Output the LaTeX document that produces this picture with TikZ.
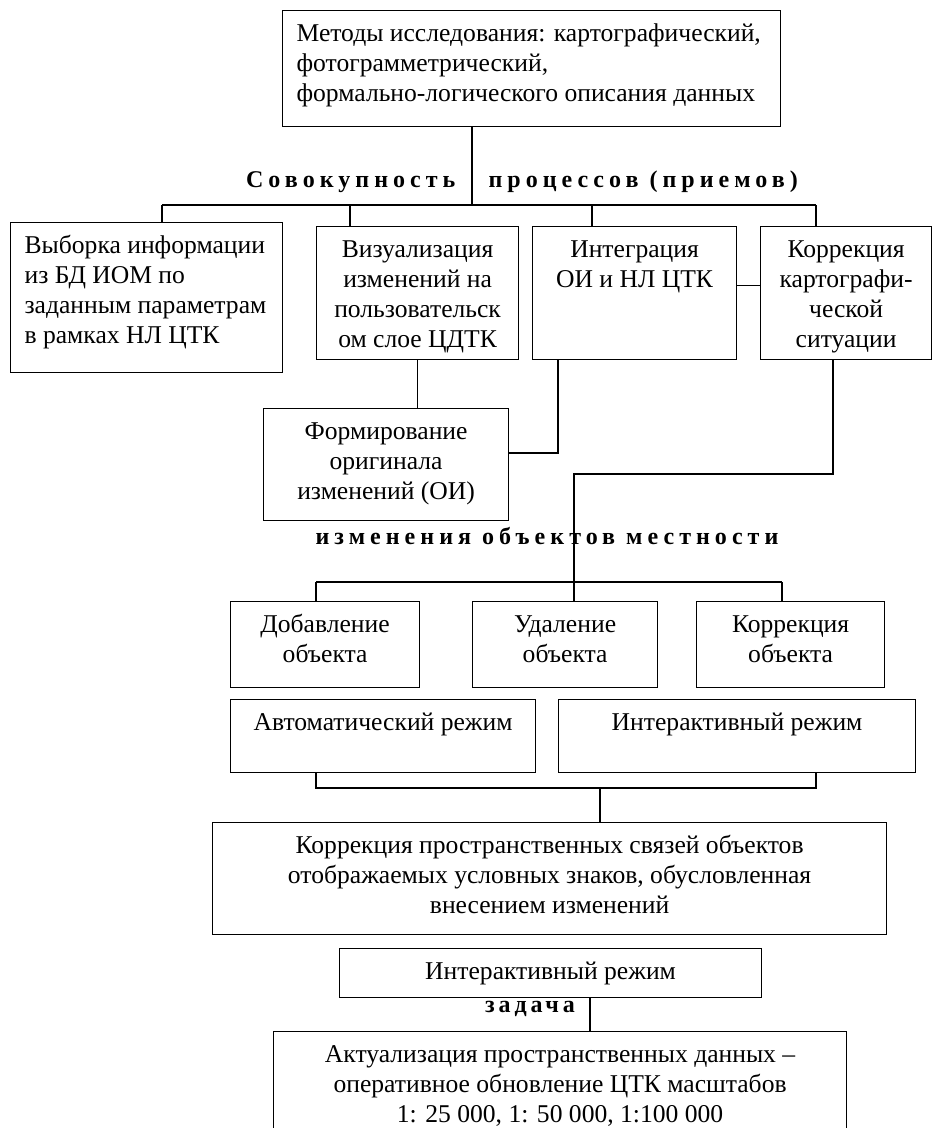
\documentclass[tikz,border=0pt]{standalone}
\usepackage{fontspec}
\setmainfont{Liberation Serif}
\newfontfamily\widefont[LetterSpace=21]{Liberation Serif}
\newfontfamily\narrowfont[LetterSpace=16]{Liberation Serif}
\usetikzlibrary{positioning}
% text block pinned to the top of a box: width, height, lines
\newcommand{\cellC}[3]{\parbox[t][#2pt][t]{#1pt}{\centering\rule{0pt}{31pt}#3}}
\newcommand{\cellL}[3]{\parbox[t][#2pt][t]{#1pt}{\raggedright\leftskip=14pt\rule{0pt}{31pt}#3}}
\tikzset{
  box/.style={draw,anchor=north west,inner sep=0pt,font=\fontsize{25.6}{30}\selectfont},
  caption/.style={inner sep=0pt,font=\fontsize{24}{28}\selectfont\widefont\bfseries},
  link/.style={line width=1.2pt}
}
\begin{document}
\begin{tikzpicture}[x=1pt,y=-1pt,line width=1.2pt]
  \useasboundingbox (0,0) rectangle (933,1128);

  \node[box] (meth) at (282,10) {\cellL{498}{116}{Методы исследования: картографический,\\ фотограмметрический,\\ формально-логического описания данных}};

  \node[caption,anchor=east] (setA) at (456,182) {Совокупность};
  \node[caption,anchor=west] (setB) at (488,182) {процессов (приемов)};

  \node[box] (sel) at (10,222) {\cellL{272}{150}{Выборка информации\\ из БД ИОМ по\\ заданным параметрам\\ в рамках НЛ ЦТК}};
  \node[box] (vis) at (316,226) {\cellC{202}{133}{Визуализация\\ изменений на\\ пользовательск\\ ом слое ЦДТК}};
  \node[box] (int) at (532,226) {\cellC{204}{133}{Интеграция\\ ОИ и НЛ ЦТК}};
  \node[box] (cor) at (760,226) {\cellC{171}{133}{Коррекция\\ картографи-\\ ческой\\ ситуации}};
  \node[box] (form) at (263,408) {\cellC{245}{112}{Формирование\\ оригинала\\ изменений (ОИ)}};

  \node[caption] (chg) at (547,536) {изменения объектов местности};

  \node[box] (add) at (230,601) {\cellC{189}{86}{Добавление\\ объекта}};
  \node[box] (del) at (472,601) {\cellC{185}{86}{Удаление\\ объекта}};
  \node[box] (fix) at (696,601) {\cellC{188}{86}{Коррекция\\ объекта}};
  \node[box] (auto) at (230,699) {\cellC{305}{73}{Автоматический режим}};
  \node[box] (inter) at (558,699) {\cellC{357}{73}{Интерактивный режим}};
  \node[box] (spat) at (212,822) {\cellC{674}{112}{Коррекция пространственных связей объектов\\ отображаемых условных знаков, обусловленная\\ внесением изменений}};
  \node[box] (mode) at (339,948) {\cellC{422}{49}{Интерактивный режим}};

  \node[caption,font=\fontsize{24}{28}\selectfont\narrowfont\bfseries] (task) at (530,1009) {задача};

  \node[box] (act) at (273,1031) {\cellC{573}{110}{Актуализация пространственных данных --\\ оперативное обновление ЦТК масштабов\\ 1: 25 000, 1: 50 000, 1:100 000}};

  % junctions
  \coordinate (t0) at (472,205);
  \coordinate (a1) at (162,205);
  \coordinate (a2) at (350,205);
  \coordinate (a3) at (592,205);
  \coordinate (a4) at (816,205);
  \coordinate (f1) at (558,453);
  \coordinate (c1) at (833,474);
  \coordinate (c2) at (574,474);
  \coordinate (b0) at (574,582);
  \coordinate (b1) at (316,582);
  \coordinate (b2) at (782,582);
  \coordinate (m0) at (600,788);
  \coordinate (m1) at (316,788);
  \coordinate (m2) at (816,788);
  \coordinate (z0) at (590,1010);

  \draw[link] (meth.south -| t0) -- (t0);
  \draw[link] (a1) -- (a4);
  \draw[link] (a1) -- (sel.north -| a1);
  \draw[link] (a2) -- (vis.north -| a2);
  \draw[link] (a3) -- (int.north -| a3);
  \draw[link] (a4) -- (cor.north -| a4);
  \draw[link] ([yshift=8pt]int.east) -- ([yshift=8pt]int.east -| cor.west);
  \draw[link] (vis.south) -- (vis.south |- form.north);
  \draw[link] (form.east |- f1) -- (f1) -- (f1 |- int.south);
  \draw[link] (c1 |- cor.south) -- (c1) -- (c2) -- (b0);
  \draw[link] (b1) -- (b2);
  \draw[link] (b1) -- (add.north -| b1);
  \draw[link] (b0) -- (del.north -| b0);
  \draw[link] (b2) -- (fix.north -| b2);
  \draw[link] (auto.south -| m1) -- (m1) -- (m2) -- (inter.south -| m2);
  \draw[link] (m0) -- (m0 |- spat.north);
  \draw[link] (z0 |- mode.south) -- (z0 |- act.north);
\end{tikzpicture}
\end{document}
